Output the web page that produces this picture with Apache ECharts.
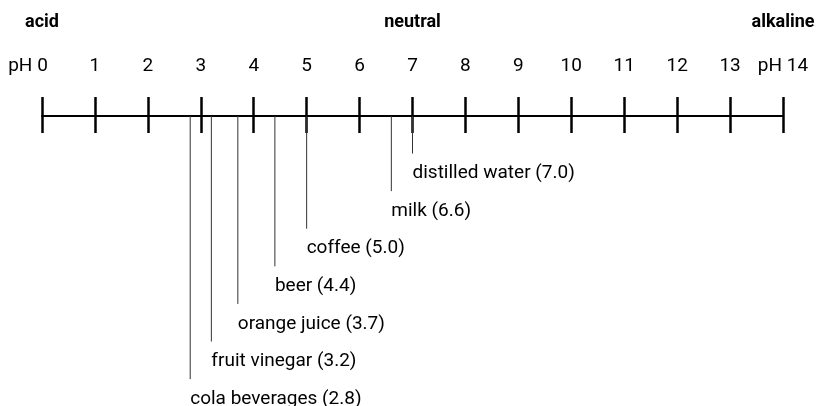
<!DOCTYPE html>
<html>
<head>
<meta charset="utf-8">
<script src="https://cdn.jsdelivr.net/npm/echarts@6/dist/echarts.min.js"></script>
<style>
  html, body { margin: 0; padding: 0; background: #fff; }
  #chart { width: 820px; height: 406px; }
</style>
</head>
<body>
<div id="chart"></div>
<script>
const phTicks = [0, 1, 2, 3, 4, 5, 6, 7, 8, 9, 10, 11, 12, 13, 14]
const regionValues = [0, 7, 14]
const regionNames = ['acid', 'neutral', 'alkaline']
const substances = ['cola beverages', 'fruit vinegar', 'orange juice', 'beer', 'coffee', 'milk', 'distilled water']
const phValues = [2.8, 3.2, 3.7, 4.4, 5.0, 6.6, 7.0]

const FONT = 'Roboto'
const n = substances.length
// higher pH -> label closer to the scale
const points = substances.map((name, i) => [phValues[i], n - i, name])

const chart = echarts.init(document.getElementById('chart'))

const baseX = {
  type: 'value',
  min: phTicks[0],
  max: phTicks[phTicks.length - 1],
  interval: 1,
  position: 'top',
  axisLine: { show: false, onZero: false },
  axisTick: { show: false },
  splitLine: { show: false },
  axisLabel: { show: false },
}

chart.setOption({
  animation: false,
  grid: [
    { left: 42, right: 37, top: 116, height: 290 },
    { left: 42, right: 37, top: 97, height: 36 },
    { left: 42, right: 37, top: 97, height: 36 },
  ],
  xAxis: [
    {
      ...baseX,
      gridIndex: 0,
      axisLine: { show: true, onZero: false, lineStyle: { color: '#000', width: 2 } },
    },
    {
      ...baseX,
      gridIndex: 1,
      splitLine: {
        show: true,
        showMinLine: true,
        showMaxLine: true,
        lineStyle: { color: '#000', width: 2.5 },
      },
      axisLabel: {
        show: true,
        margin: 21,
        color: '#000',
        fontFamily: FONT,
        fontSize: 19,
        formatter: (v) => {
          if (v === phTicks[0]) return '{first|pH ' + v + '}'
          if (v === phTicks[phTicks.length - 1]) return 'pH ' + v
          return String(v)
        },
        rich: {
          first: { fontFamily: FONT, fontSize: 19, color: '#000', padding: [0, 28, 0, 0] },
        },
      },
    },
    {
      ...baseX,
      gridIndex: 2,
      axisLabel: {
        show: true,
        margin: 66,
        color: '#000',
        fontFamily: FONT,
        fontSize: 18,
        fontWeight: 'bold',
        formatter: (v) => {
          const k = regionValues.indexOf(v)
          return k >= 0 ? regionNames[k] : ''
        },
      },
    },
  ],
  yAxis: [
    { gridIndex: 0, type: 'value', inverse: true, min: -0.53, max: 7.183, show: false },
    { gridIndex: 1, type: 'value', show: false },
    { gridIndex: 2, type: 'value', show: false },
  ],
  series: [
    {
      type: 'custom',
      xAxisIndex: 0,
      yAxisIndex: 0,
      data: points,
      renderItem: (params, api) => {
        const p = api.coord([api.value(0), api.value(1)])
        const top = params.coordSys.y
        return {
          type: 'group',
          children: [
            {
              type: 'line',
              shape: { x1: p[0], y1: top, x2: p[0], y2: p[1] - 20 },
              style: { stroke: '#333', lineWidth: 1 },
            },
            {
              type: 'text',
              style: {
                x: p[0],
                y: p[1],
                text: points[params.dataIndex][2] + ' (' + api.value(0).toFixed(1) + ')',
                fill: '#000',
                font: '19px ' + FONT,
                align: 'left',
                verticalAlign: 'middle',
              },
            },
          ],
        }
      },
    },
  ],
})
</script>
</body>
</html>
